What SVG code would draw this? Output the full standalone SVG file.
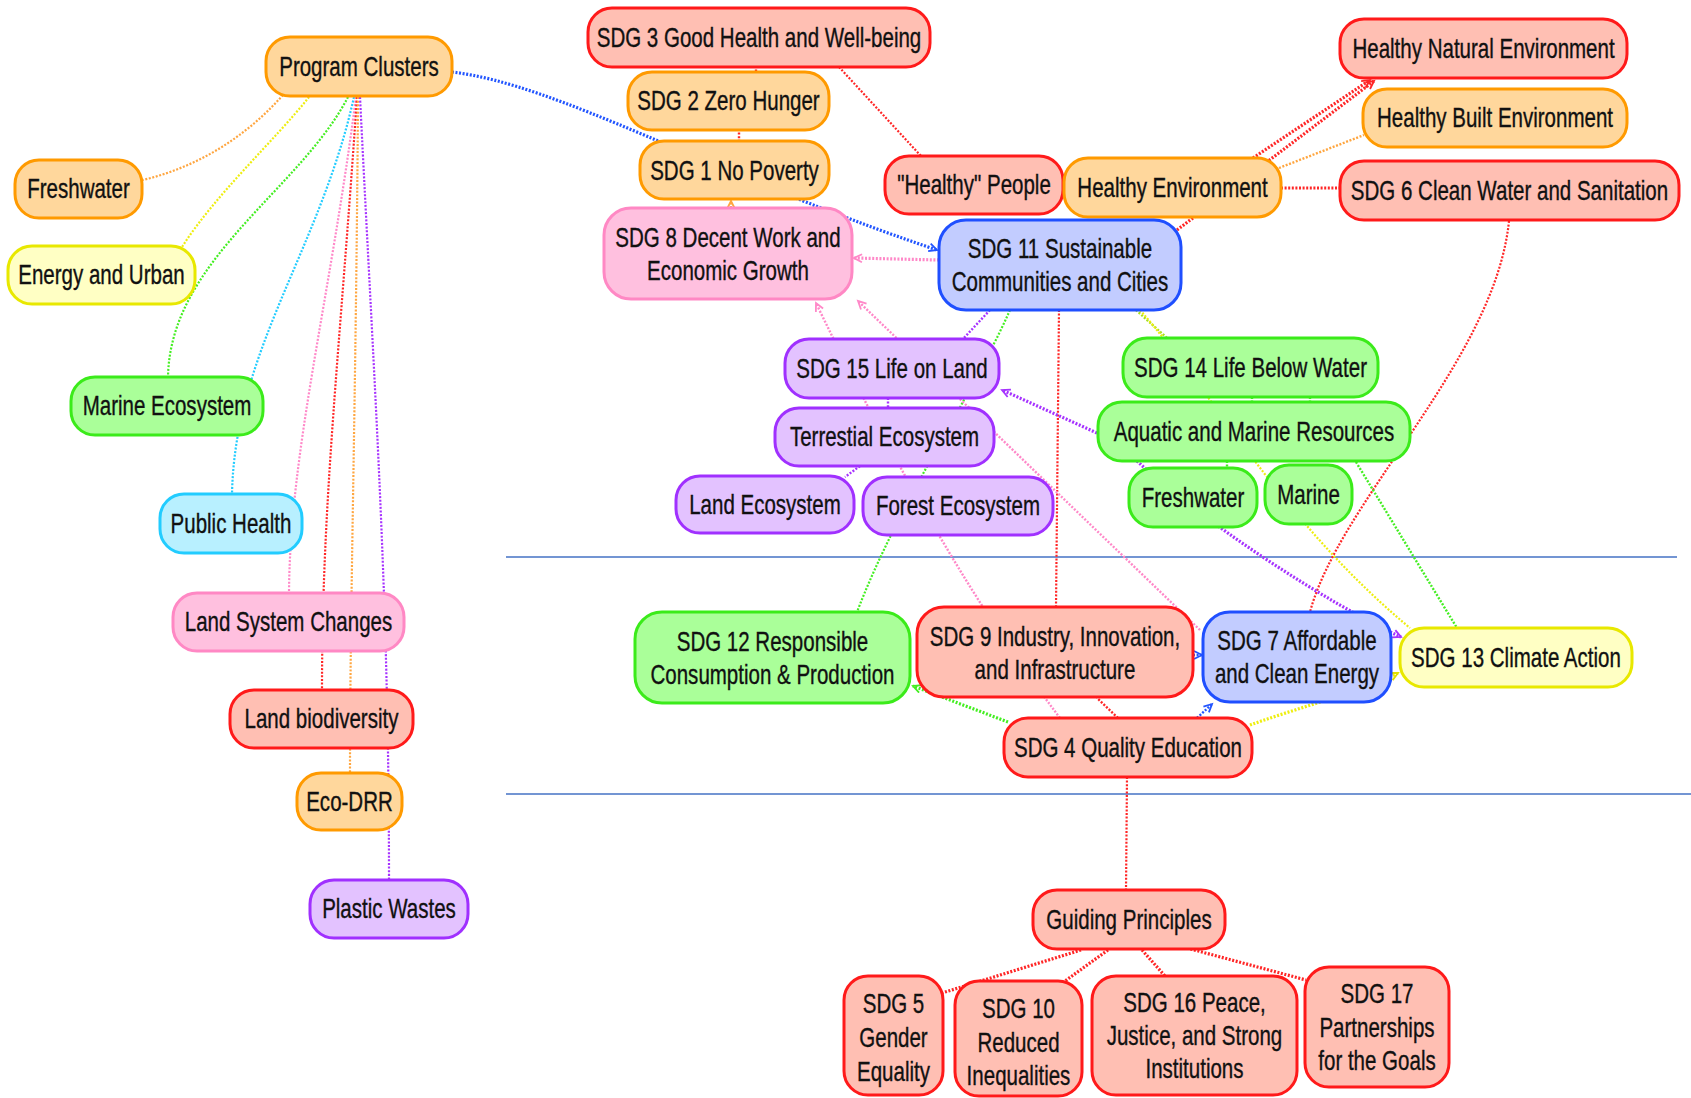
<svg xmlns="http://www.w3.org/2000/svg" width="1691" height="1098" viewBox="0 0 1691 1098">
<style>
.node rect{stroke-width:3}
.node text{font-family:"Liberation Sans",Arial,sans-serif;font-size:27px;fill:#111;stroke:#111;stroke-width:0.35;text-anchor:middle;transform:scaleX(0.76);transform-box:fill-box;transform-origin:center}
.orange rect{fill:#FFD79C;stroke:#FF9A00}
.yellow rect{fill:#FFFFC4;stroke:#E8E800}
.green rect{fill:#AAFF99;stroke:#3BEB1A}
.cyan rect{fill:#B8F0FF;stroke:#22CCFF}
.pink rect{fill:#FFC0DF;stroke:#FF88C4}
.red rect{fill:#FFBFB3;stroke:#FF1A1A}
.purple rect{fill:#E3C2FF;stroke:#A030FF}
.blue rect{fill:#C2CCFF;stroke:#1F4FFF}
#connectors path{fill:none;stroke-width:2.4;stroke-dasharray:2 1.6}
#connectors .thin{stroke-width:2.2}
#connectors .thick{stroke-width:3.2}
.c-orange{stroke:#FFA640}
.c-yellow{stroke:#EEEE10}
.c-green{stroke:#44EE22}
.c-yg{stroke:#A8E020}
.c-cyan{stroke:#22CCFF}
.c-pink{stroke:#FF88C8}
.c-red{stroke:#FF2626}
.c-purple{stroke:#A633FF}
.c-blue{stroke:#2255FF}
.divider{stroke:#4472C4;stroke-width:1.5}
marker path{fill:none;stroke-width:1.8}
</style>
<defs>
<marker id="a-blue" markerUnits="userSpaceOnUse" markerWidth="12" markerHeight="12" refX="9" refY="5" orient="auto"><path d="M1,1 L9,5 L1,9" stroke="#2255FF"/></marker>
<marker id="a-pink" markerUnits="userSpaceOnUse" markerWidth="12" markerHeight="12" refX="9" refY="5" orient="auto"><path d="M1,1 L9,5 L1,9" stroke="#FF88C8"/></marker>
<marker id="a-red" markerUnits="userSpaceOnUse" markerWidth="12" markerHeight="12" refX="9" refY="5" orient="auto"><path d="M1,1 L9,5 L1,9" stroke="#FF2626"/></marker>
<marker id="a-purple" markerUnits="userSpaceOnUse" markerWidth="12" markerHeight="12" refX="9" refY="5" orient="auto"><path d="M1,1 L9,5 L1,9" stroke="#A633FF"/></marker>
<marker id="a-green" markerUnits="userSpaceOnUse" markerWidth="12" markerHeight="12" refX="9" refY="5" orient="auto"><path d="M1,1 L9,5 L1,9" stroke="#44EE22"/></marker>
<marker id="a-yellow" markerUnits="userSpaceOnUse" markerWidth="12" markerHeight="12" refX="9" refY="5" orient="auto"><path d="M1,1 L9,5 L1,9" stroke="#E0E000"/></marker>
<marker id="a-orange" markerUnits="userSpaceOnUse" markerWidth="12" markerHeight="12" refX="9" refY="5" orient="auto"><path d="M1,1 L9,5 L1,9" stroke="#FFA640"/></marker>
</defs>
<rect width="1691" height="1098" fill="#FFFFFF"/>
<line class="divider" x1="506" y1="557" x2="1677" y2="557"/>
<line class="divider" x1="506" y1="794" x2="1691" y2="794"/>
<g id="connectors">
<path class="c-orange thin" d="M283,95 Q225,160 143,180"/>
<path class="c-yellow thin" d="M309,97 C275,140 215,195 182,247"/>
<path class="c-green thin" d="M348,97 C300,190 170,260 168,377"/>
<path class="c-cyan thin" d="M354,97 C320,250 235,350 232,494"/>
<path class="c-pink thin" d="M356,97 C330,300 290,450 289,593"/>
<path class="c-red thin" d="M357,97 C340,350 322,500 322,690"/>
<path class="c-orange thin" d="M358,97 C356,400 350,600 350,773"/>
<path class="c-purple thin" d="M360,97 C375,400 389,600 389,880"/>
<path class="c-blue thick" d="M452,72 C560,85 700,170 937,250" marker-end="url(#a-blue)"/>
<path class="c-pink thick" d="M939,260 L854,258" marker-end="url(#a-pink)"/>
<path class="c-red" d="M756,66 L756,73"/>
<path class="c-red" d="M739,129 L739,142"/>
<path class="c-orange" d="M731,208 L731,201" marker-end="url(#a-orange)"/>
<path class="c-red thin" d="M839,67 L921,156"/>
<path class="c-red thick" d="M1253,158 L1370,80" marker-end="url(#a-red)"/>
<path class="c-red thick" d="M1177,230 L1374,81" marker-end="url(#a-red)"/>
<path class="c-orange" d="M1279,168 L1364,135"/>
<path class="c-red thick" d="M1281,188 L1340,188"/>
<path class="c-red thin" d="M1509,221 C1495,360 1340,500 1310,612"/>
<path class="c-purple" d="M990,310 L963,339"/>
<path class="c-green thin" d="M1010,310 C970,400 900,500 857,612"/>
<path class="c-red thin" d="M1059,310 L1056,607"/>
<path class="c-yg" d="M1136,310 L1167,338"/>
<path class="c-yellow thin" d="M1140,310 C1215,395 1280,520 1410,628"/>
<path class="c-purple thick" d="M1097,433 L1002,390" marker-end="url(#a-purple)"/>
<path class="c-purple thick" d="M1137,461 C1200,520 1330,605 1401,637" marker-end="url(#a-purple)"/>
<path class="c-green" d="M1356,462 L1457,628"/>
<path class="c-pink" d="M1060,718 Q940,560 816,303" marker-end="url(#a-pink)"/>
<path class="c-pink" d="M1200,630 L858,301" marker-end="url(#a-pink)"/>
<path class="c-purple" d="M888,398 L888,408"/>
<path class="c-purple" d="M860,466 L845,477"/>
<path class="c-blue" d="M1193,655 L1202,655" marker-end="url(#a-blue)"/>
<path class="c-green thick" d="M1008,722 L913,686" marker-end="url(#a-green)"/>
<path class="c-blue" d="M1197,718 L1212,704" marker-end="url(#a-blue)"/>
<path class="c-yellow thick" d="M1250,725 C1300,707 1360,692 1398,673" marker-end="url(#a-yellow)"/>
<path class="c-red" d="M1118,718 L1097,698"/>
<path class="c-red thin" d="M1127,777 L1126,890"/>
<path class="c-red thick" d="M1081,950 L942,993"/>
<path class="c-red thick" d="M1108,950 L1065,981"/>
<path class="c-red thick" d="M1142,950 L1165,976"/>
<path class="c-red thick" d="M1187,948 L1306,980"/>
<path class="c-green" d="M1252,397 L1252,402"/>
<path class="c-green" d="M1310,397 L1310,402"/>
<path class="c-green" d="M1227,461 L1227,468"/>
</g>
<g id="n-program-clusters" class="node orange"><rect x="266" y="37" width="186" height="59" rx="24"/><text x="359" y="76">Program Clusters</text></g>
<g id="n-freshwater-left" class="node orange"><rect x="15" y="160" width="127" height="58" rx="24"/><text x="78.5" y="198.5">Freshwater</text></g>
<g id="n-energy-urban" class="node yellow"><rect x="8" y="246" width="187" height="58" rx="24"/><text x="101.5" y="284.5">Energy and Urban</text></g>
<g id="n-marine-ecosystem" class="node green"><rect x="71" y="377" width="192" height="58" rx="24"/><text x="167" y="415.5">Marine Ecosystem</text></g>
<g id="n-public-health" class="node cyan"><rect x="160" y="494" width="142" height="59" rx="24"/><text x="231" y="533">Public Health</text></g>
<g id="n-land-system-changes" class="node pink"><rect x="173" y="593" width="231" height="58" rx="24"/><text x="288.5" y="631.5">Land System Changes</text></g>
<g id="n-land-biodiversity" class="node red"><rect x="230" y="690" width="183" height="58" rx="24"/><text x="321.5" y="728.5">Land biodiversity</text></g>
<g id="n-eco-drr" class="node orange"><rect x="297" y="773" width="105" height="57" rx="24"/><text x="349.5" y="811">Eco-DRR</text></g>
<g id="n-plastic-wastes" class="node purple"><rect x="310" y="880" width="158" height="58" rx="24"/><text x="389" y="918.5">Plastic Wastes</text></g>
<g id="n-sdg3" class="node red"><rect x="588" y="8" width="342" height="59" rx="24"/><text x="759" y="47">SDG 3 Good Health and Well-being</text></g>
<g id="n-sdg2" class="node orange"><rect x="628" y="72" width="201" height="58" rx="24"/><text x="728.5" y="110.5">SDG 2 Zero Hunger</text></g>
<g id="n-sdg1" class="node orange"><rect x="640" y="141" width="189" height="58" rx="24"/><text x="734.5" y="179.5">SDG 1 No Poverty</text></g>
<g id="n-sdg8" class="node pink"><rect x="604" y="208" width="248" height="91" rx="27"/><text x="728" y="247">SDG 8 Decent Work and</text><text x="728" y="280">Economic Growth</text></g>
<g id="n-healthy-people" class="node red"><rect x="885" y="156" width="178" height="58" rx="24"/><text x="974" y="194.5">"Healthy" People</text></g>
<g id="n-healthy-environment" class="node orange"><rect x="1064" y="158" width="217" height="59" rx="24"/><text x="1172.5" y="197">Healthy Environment</text></g>
<g id="n-sdg11" class="node blue"><rect x="939" y="220" width="242" height="90" rx="27"/><text x="1060" y="258.5">SDG 11 Sustainable</text><text x="1060" y="291.5">Communities and Cities</text></g>
<g id="n-healthy-natural" class="node red"><rect x="1340" y="19" width="287" height="59" rx="24"/><text x="1483.5" y="58">Healthy Natural Environment</text></g>
<g id="n-healthy-built" class="node orange"><rect x="1363" y="89" width="264" height="58" rx="24"/><text x="1495" y="127.5">Healthy Built Environment</text></g>
<g id="n-sdg6" class="node red"><rect x="1340" y="161" width="339" height="59" rx="24"/><text x="1509.5" y="200">SDG 6 Clean Water and Sanitation</text></g>
<g id="n-sdg15" class="node purple"><rect x="785" y="339" width="214" height="59" rx="24"/><text x="892" y="378">SDG 15 Life on Land</text></g>
<g id="n-sdg14" class="node green"><rect x="1123" y="338" width="255" height="59" rx="24"/><text x="1250.5" y="377">SDG 14 Life Below Water</text></g>
<g id="n-terrestial" class="node purple"><rect x="775" y="408" width="219" height="58" rx="24"/><text x="884.5" y="446.5">Terrestial Ecosystem</text></g>
<g id="n-aquatic" class="node green"><rect x="1098" y="402" width="312" height="59" rx="24"/><text x="1254" y="441">Aquatic and Marine Resources</text></g>
<g id="n-land-ecosystem" class="node purple"><rect x="676" y="476" width="178" height="57" rx="24"/><text x="765" y="514">Land Ecosystem</text></g>
<g id="n-forest-ecosystem" class="node purple"><rect x="863" y="477" width="190" height="58" rx="24"/><text x="958" y="515.5">Forest Ecosystem</text></g>
<g id="n-freshwater-green" class="node green"><rect x="1129" y="468" width="128" height="59" rx="24"/><text x="1193" y="507">Freshwater</text></g>
<g id="n-marine" class="node green"><rect x="1265" y="465" width="87" height="59" rx="24"/><text x="1308.5" y="504">Marine</text></g>
<g id="n-sdg12" class="node green"><rect x="635" y="612" width="275" height="91" rx="27"/><text x="772.5" y="651">SDG 12 Responsible</text><text x="772.5" y="684">Consumption &amp; Production</text></g>
<g id="n-sdg9" class="node red"><rect x="917" y="607" width="276" height="90" rx="27"/><text x="1055" y="646.5">SDG 9 Industry, Innovation,</text><text x="1055" y="679.5">and Infrastructure</text></g>
<g id="n-sdg7" class="node blue"><rect x="1203" y="612" width="188" height="90" rx="27"/><text x="1297" y="650.5">SDG 7 Affordable</text><text x="1297" y="683.5">and Clean Energy</text></g>
<g id="n-sdg13" class="node yellow"><rect x="1400" y="628" width="232" height="59" rx="24"/><text x="1516" y="667">SDG 13 Climate Action</text></g>
<g id="n-sdg4" class="node red"><rect x="1004" y="718" width="248" height="59" rx="24"/><text x="1128" y="757">SDG 4 Quality Education</text></g>
<g id="n-guiding-principles" class="node red"><rect x="1033" y="890" width="192" height="59" rx="24"/><text x="1129" y="929">Guiding Principles</text></g>
<g id="n-sdg5" class="node red"><rect x="844" y="976" width="99" height="119" rx="24"/><text x="893.5" y="1013.5">SDG 5</text><text x="893.5" y="1047.5">Gender</text><text x="893.5" y="1081.5">Equality</text></g>
<g id="n-sdg10" class="node red"><rect x="955" y="981" width="127" height="115" rx="24"/><text x="1018.5" y="1018.5">SDG 10</text><text x="1018.5" y="1052.5">Reduced</text><text x="1018.5" y="1085.5">Inequalities</text></g>
<g id="n-sdg16" class="node red"><rect x="1092" y="976" width="205" height="119" rx="24"/><text x="1194.5" y="1012.5">SDG 16 Peace,</text><text x="1194.5" y="1045.5">Justice, and Strong</text><text x="1194.5" y="1078.5">Institutions</text></g>
<g id="n-sdg17" class="node red"><rect x="1305" y="967" width="144" height="120" rx="24"/><text x="1377" y="1003.5">SDG 17</text><text x="1377" y="1037.5">Partnerships</text><text x="1377" y="1070.5">for the Goals</text></g>
</svg>
